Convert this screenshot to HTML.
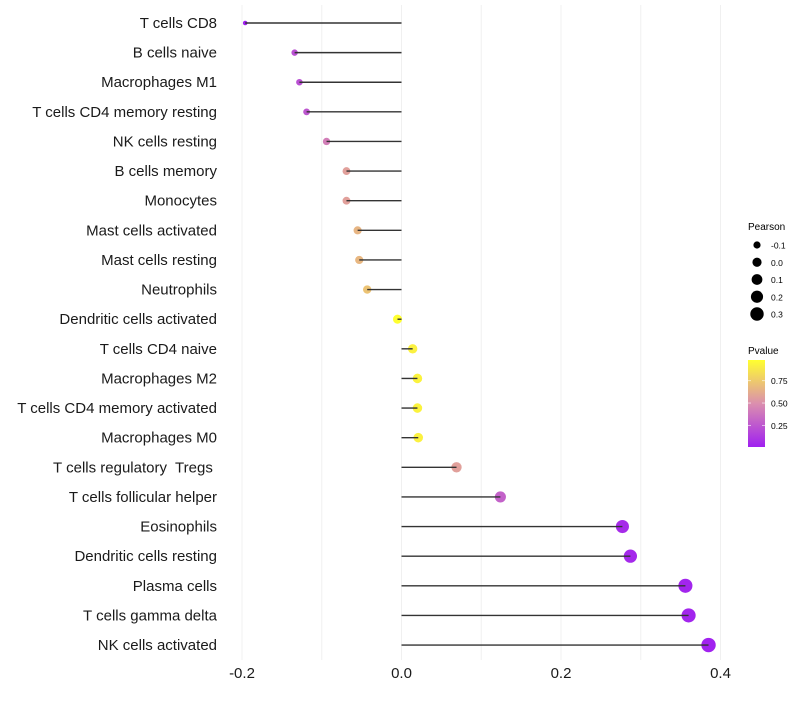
<!DOCTYPE html>
<html><head><meta charset="utf-8"><style>
body{margin:0;background:#fff}
svg text{font-family:"Liberation Sans",sans-serif;white-space:pre}
</style></head><body>
<svg id="c" width="800" height="700">
<defs><linearGradient id="pg" x1="0" y1="1" x2="0" y2="0">
<stop offset="0" stop-color="#a020f0"/><stop offset="0.5" stop-color="#db8fae"/><stop offset="1" stop-color="#ffff30"/>
</linearGradient></defs>
<g id="grid"></g><g id="marks"></g><g id="labels"></g>
<g>
<text x="748" y="230" font-size="10">Pearson</text>
<g id="sizeleg"></g>
<text x="748" y="354" font-size="10">Pvalue</text>
<rect x="748" y="360" width="17" height="87" fill="url(#pg)"/>
<g id="colleg"></g>
</g>
</svg>
<script>
const categories=["T cells CD8","B cells naive","Macrophages M1","T cells CD4 memory resting","NK cells resting","B cells memory","Monocytes","Mast cells activated","Mast cells resting","Neutrophils","Dendritic cells activated","T cells CD4 naive","Macrophages M2","T cells CD4 memory activated","Macrophages M0","T cells regulatory  Tregs ","T cells follicular helper","Eosinophils","Dendritic cells resting","Plasma cells","T cells gamma delta","NK cells activated"];
const pearson=[-0.196,-0.134,-0.128,-0.119,-0.094,-0.069,-0.069,-0.055,-0.053,-0.043,-0.005,0.014,0.020,0.020,0.021,0.069,0.124,0.277,0.287,0.356,0.360,0.385];
const pvalue=[0.01,0.22,0.22,0.25,0.42,0.57,0.57,0.66,0.67,0.72,0.98,0.92,0.93,0.93,0.92,0.57,0.3,0.06,0.05,0.03,0.03,0.02];
const xTicks=[-0.2,0,0.2,0.4];
const xTickLabels=["-0.2","0.0","0.2","0.4"];
const sizeLegendValues=[-0.1,0.0,0.1,0.2,0.3];
const colorTicks=[0.25,0.5,0.75];

const ns="http://www.w3.org/2000/svg";
const X=v=>401.5+v*797.5;
const Y=i=>23+i*29.62;
const R=v=>Math.sqrt(Math.max(1,21+80*v));
const pMin=0.01,pMax=0.98;
const PY=p=>447-(p-pMin)/(pMax-pMin)*87;
function lerp(a,b,t){return a.map((x,i)=>Math.round(x+(b[i]-x)*t));}
function col(p){const t=(p-pMin)/(pMax-pMin);const c0=[160,32,240],c1=[219,143,174],c2=[255,255,48];
 const c=t<0.5?lerp(c0,c1,t/0.5):lerp(c1,c2,(t-0.5)/0.5);return `rgb(${c})`;}
function mk(tag,attrs,parent){const e=document.createElementNS(ns,tag);for(const k in attrs)e.setAttribute(k,attrs[k]);document.getElementById(parent).appendChild(e);return e;}

for(let v=-0.2;v<=0.401;v+=0.1){
 const g=mk('line',{x1:X(v),x2:X(v),y1:5,y2:660,stroke:'#f0f0f0','stroke-width':1},'grid');
 
 
}
xTicks.forEach((v,i)=>{
 const t=mk('text',{x:X(v),y:678,'font-size':15,'text-anchor':'middle',fill:'#1a1a1a'},'labels');t.textContent=xTickLabels[i];
 
 
});
categories.forEach((c,i)=>{
 const t=mk('text',{x:217,y:Y(i)+5,'font-size':15,'text-anchor':'end',fill:'#1a1a1a'},'labels');t.textContent=c;
 
 
 const p=mk('circle',{cx:X(pearson[i]),cy:Y(i),r:R(pearson[i]),fill:col(pvalue[i])},'marks');
 
 
 const l=mk('line',{x1:X(0),x2:X(pearson[i]),y1:Y(i),y2:Y(i),stroke:'#333','stroke-width':1.4},'marks');
 
 
});
sizeLegendValues.forEach((v,i)=>{
 const y=245+i*17.25;
 const c=mk('circle',{cx:757,cy:y,r:R(v),fill:'#000'},'sizeleg');
 
 
 const t=mk('text',{x:771,y:y+3.5,'font-size':8.5},'sizeleg');t.textContent=v.toFixed(1);
 
 
});
colorTicks.forEach(p=>{
 const t=mk('text',{x:771,y:PY(p)+3.5,'font-size':8.5},'colleg');t.textContent=p.toFixed(2);
 
 
 mk('line',{x1:748,x2:751,y1:PY(p),y2:PY(p),stroke:'#fff','stroke-opacity':0.6},'colleg');
 mk('line',{x1:762,x2:765,y1:PY(p),y2:PY(p),stroke:'#fff','stroke-opacity':0.6},'colleg');
});
</script>
</body></html>
